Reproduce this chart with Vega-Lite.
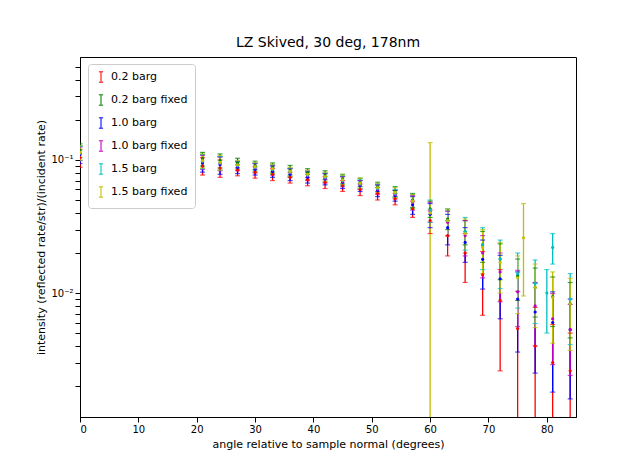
{
"$schema":"https://vega.github.io/schema/vega-lite/v6.json",
"autosize":"none","width":496,"height":360,
"padding":{"left":80,"top":57,"right":64,"bottom":51},
"config":{"font":"DejaVu Sans","view":{"stroke":"black","strokeWidth":1}},
"title":{"text":"LZ Skived, 30 deg, 178nm","fontSize":14,"fontWeight":"normal","offset":7},
"datasets":{"d":[
{"s":"0.2 barg","x":0,"y":0.104,"lo":0.088,"hi":0.12},{"s":"0.2 barg","x":3,"y":0.1,"lo":0.085,"hi":0.115},{"s":"0.2 barg","x":6,"y":0.098,"lo":0.083,"hi":0.113},{"s":"0.2 barg","x":9,"y":0.096,"lo":0.082,"hi":0.11},{"s":"0.2 barg","x":12,"y":0.095,"lo":0.081,"hi":0.109},{"s":"0.2 barg","x":15,"y":0.093,"lo":0.079,"hi":0.107},{"s":"0.2 barg","x":18,"y":0.091,"lo":0.077,"hi":0.105},{"s":"0.2 barg","x":21,"y":0.09,"lo":0.077,"hi":0.104},{"s":"0.2 barg","x":24,"y":0.087,"lo":0.074,"hi":0.1},{"s":"0.2 barg","x":27,"y":0.084,"lo":0.076,"hi":0.092},{"s":"0.2 barg","x":30,"y":0.081,"lo":0.073,"hi":0.089},{"s":"0.2 barg","x":33,"y":0.078,"lo":0.07,"hi":0.086},{"s":"0.2 barg","x":36,"y":0.074,"lo":0.067,"hi":0.081},{"s":"0.2 barg","x":39,"y":0.071,"lo":0.064,"hi":0.078},{"s":"0.2 barg","x":42,"y":0.068,"lo":0.061,"hi":0.075},{"s":"0.2 barg","x":45,"y":0.064,"lo":0.058,"hi":0.07},{"s":"0.2 barg","x":48,"y":0.06,"lo":0.054,"hi":0.066},{"s":"0.2 barg","x":51,"y":0.056,"lo":0.05,"hi":0.062},{"s":"0.2 barg","x":54,"y":0.051,"lo":0.046,"hi":0.056},{"s":"0.2 barg","x":57,"y":0.043,"lo":0.037,"hi":0.049},{"s":"0.2 barg","x":60,"y":0.035,"lo":0.028,"hi":0.042},{"s":"0.2 barg","x":63,"y":0.027,"lo":0.019,"hi":0.035},{"s":"0.2 barg","x":66,"y":0.02,"lo":0.012,"hi":0.028},{"s":"0.2 barg","x":69,"y":0.0137,"lo":0.0068,"hi":0.0205},{"s":"0.2 barg","x":72,"y":0.0088,"lo":0.0026,"hi":0.015},{"s":"0.2 barg","x":75,"y":0.0054,"lo":0.0005,"hi":0.0103},{"s":"0.2 barg","x":78,"y":0.004,"lo":0.0002,"hi":0.0078},{"s":"0.2 barg","x":81,"y":0.003,"lo":0.0002,"hi":0.0058},{"s":"0.2 barg","x":84,"y":0.0026,"lo":0.0002,"hi":0.005},
{"s":"0.2 barg fixed","x":0,"y":0.118,"lo":0.104,"hi":0.132},{"s":"0.2 barg fixed","x":3,"y":0.113,"lo":0.099,"hi":0.127},{"s":"0.2 barg fixed","x":6,"y":0.11,"lo":0.097,"hi":0.123},{"s":"0.2 barg fixed","x":9,"y":0.108,"lo":0.095,"hi":0.121},{"s":"0.2 barg fixed","x":12,"y":0.107,"lo":0.094,"hi":0.12},{"s":"0.2 barg fixed","x":15,"y":0.105,"lo":0.092,"hi":0.118},{"s":"0.2 barg fixed","x":18,"y":0.103,"lo":0.091,"hi":0.115},{"s":"0.2 barg fixed","x":21,"y":0.102,"lo":0.09,"hi":0.114},{"s":"0.2 barg fixed","x":24,"y":0.099,"lo":0.087,"hi":0.111},{"s":"0.2 barg fixed","x":27,"y":0.095,"lo":0.087,"hi":0.103},{"s":"0.2 barg fixed","x":30,"y":0.091,"lo":0.084,"hi":0.098},{"s":"0.2 barg fixed","x":33,"y":0.088,"lo":0.081,"hi":0.095},{"s":"0.2 barg fixed","x":36,"y":0.084,"lo":0.077,"hi":0.091},{"s":"0.2 barg fixed","x":39,"y":0.08,"lo":0.074,"hi":0.086},{"s":"0.2 barg fixed","x":42,"y":0.077,"lo":0.071,"hi":0.083},{"s":"0.2 barg fixed","x":45,"y":0.072,"lo":0.066,"hi":0.078},{"s":"0.2 barg fixed","x":48,"y":0.068,"lo":0.063,"hi":0.073},{"s":"0.2 barg fixed","x":51,"y":0.063,"lo":0.058,"hi":0.068},{"s":"0.2 barg fixed","x":54,"y":0.058,"lo":0.053,"hi":0.063},{"s":"0.2 barg fixed","x":57,"y":0.05,"lo":0.044,"hi":0.056},{"s":"0.2 barg fixed","x":60,"y":0.043,"lo":0.037,"hi":0.049},{"s":"0.2 barg fixed","x":63,"y":0.036,"lo":0.03,"hi":0.042},{"s":"0.2 barg fixed","x":66,"y":0.029,"lo":0.023,"hi":0.035},{"s":"0.2 barg fixed","x":69,"y":0.023,"lo":0.017,"hi":0.029},{"s":"0.2 barg fixed","x":72,"y":0.018,"lo":0.0126,"hi":0.0234},{"s":"0.2 barg fixed","x":75,"y":0.0135,"lo":0.0088,"hi":0.018},{"s":"0.2 barg fixed","x":78,"y":0.011,"lo":0.0066,"hi":0.0154},{"s":"0.2 barg fixed","x":81,"y":0.0094,"lo":0.0056,"hi":0.0132},{"s":"0.2 barg fixed","x":84,"y":0.0083,"lo":0.0046,"hi":0.012},
{"s":"1.0 barg","x":0,"y":0.11,"lo":0.094,"hi":0.127},{"s":"1.0 barg","x":3,"y":0.106,"lo":0.09,"hi":0.122},{"s":"1.0 barg","x":6,"y":0.103,"lo":0.088,"hi":0.118},{"s":"1.0 barg","x":9,"y":0.101,"lo":0.086,"hi":0.116},{"s":"1.0 barg","x":12,"y":0.1,"lo":0.085,"hi":0.115},{"s":"1.0 barg","x":15,"y":0.098,"lo":0.083,"hi":0.113},{"s":"1.0 barg","x":18,"y":0.096,"lo":0.082,"hi":0.11},{"s":"1.0 barg","x":21,"y":0.095,"lo":0.081,"hi":0.109},{"s":"1.0 barg","x":24,"y":0.092,"lo":0.078,"hi":0.106},{"s":"1.0 barg","x":27,"y":0.088,"lo":0.079,"hi":0.097},{"s":"1.0 barg","x":30,"y":0.085,"lo":0.077,"hi":0.094},{"s":"1.0 barg","x":33,"y":0.082,"lo":0.074,"hi":0.09},{"s":"1.0 barg","x":36,"y":0.078,"lo":0.07,"hi":0.086},{"s":"1.0 barg","x":39,"y":0.074,"lo":0.067,"hi":0.081},{"s":"1.0 barg","x":42,"y":0.072,"lo":0.065,"hi":0.079},{"s":"1.0 barg","x":45,"y":0.068,"lo":0.061,"hi":0.075},{"s":"1.0 barg","x":48,"y":0.064,"lo":0.058,"hi":0.07},{"s":"1.0 barg","x":51,"y":0.059,"lo":0.053,"hi":0.065},{"s":"1.0 barg","x":54,"y":0.054,"lo":0.049,"hi":0.059},{"s":"1.0 barg","x":57,"y":0.046,"lo":0.039,"hi":0.053},{"s":"1.0 barg","x":60,"y":0.039,"lo":0.031,"hi":0.047},{"s":"1.0 barg","x":63,"y":0.031,"lo":0.023,"hi":0.039},{"s":"1.0 barg","x":66,"y":0.024,"lo":0.017,"hi":0.031},{"s":"1.0 barg","x":69,"y":0.0179,"lo":0.0107,"hi":0.025},{"s":"1.0 barg","x":72,"y":0.0128,"lo":0.0064,"hi":0.0192},{"s":"1.0 barg","x":75,"y":0.009,"lo":0.0036,"hi":0.0144},{"s":"1.0 barg","x":78,"y":0.0072,"lo":0.0025,"hi":0.0119},{"s":"1.0 barg","x":81,"y":0.006,"lo":0.0018,"hi":0.0102},{"s":"1.0 barg","x":84,"y":0.0053,"lo":0.0016,"hi":0.009},
{"s":"1.0 barg fixed","x":0,"y":0.112,"lo":0.099,"hi":0.125},{"s":"1.0 barg fixed","x":3,"y":0.108,"lo":0.095,"hi":0.121},{"s":"1.0 barg fixed","x":6,"y":0.105,"lo":0.092,"hi":0.118},{"s":"1.0 barg fixed","x":7,"y":0.1,"lo":0.056,"hi":0.15},{"s":"1.0 barg fixed","x":9,"y":0.103,"lo":0.091,"hi":0.115},{"s":"1.0 barg fixed","x":12,"y":0.102,"lo":0.09,"hi":0.114},{"s":"1.0 barg fixed","x":15,"y":0.1,"lo":0.088,"hi":0.112},{"s":"1.0 barg fixed","x":18,"y":0.098,"lo":0.086,"hi":0.11},{"s":"1.0 barg fixed","x":21,"y":0.097,"lo":0.085,"hi":0.109},{"s":"1.0 barg fixed","x":24,"y":0.094,"lo":0.083,"hi":0.105},{"s":"1.0 barg fixed","x":27,"y":0.09,"lo":0.083,"hi":0.097},{"s":"1.0 barg fixed","x":30,"y":0.087,"lo":0.08,"hi":0.094},{"s":"1.0 barg fixed","x":33,"y":0.084,"lo":0.077,"hi":0.091},{"s":"1.0 barg fixed","x":36,"y":0.08,"lo":0.074,"hi":0.086},{"s":"1.0 barg fixed","x":39,"y":0.076,"lo":0.07,"hi":0.082},{"s":"1.0 barg fixed","x":42,"y":0.073,"lo":0.067,"hi":0.079},{"s":"1.0 barg fixed","x":45,"y":0.069,"lo":0.063,"hi":0.075},{"s":"1.0 barg fixed","x":48,"y":0.065,"lo":0.06,"hi":0.07},{"s":"1.0 barg fixed","x":51,"y":0.06,"lo":0.055,"hi":0.065},{"s":"1.0 barg fixed","x":54,"y":0.055,"lo":0.051,"hi":0.059},{"s":"1.0 barg fixed","x":57,"y":0.048,"lo":0.042,"hi":0.054},{"s":"1.0 barg fixed","x":60,"y":0.041,"lo":0.034,"hi":0.048},{"s":"1.0 barg fixed","x":63,"y":0.034,"lo":0.027,"hi":0.041},{"s":"1.0 barg fixed","x":66,"y":0.027,"lo":0.019,"hi":0.035},{"s":"1.0 barg fixed","x":69,"y":0.02,"lo":0.013,"hi":0.027},{"s":"1.0 barg fixed","x":72,"y":0.0144,"lo":0.0086,"hi":0.02},{"s":"1.0 barg fixed","x":75,"y":0.0102,"lo":0.0056,"hi":0.0148},{"s":"1.0 barg fixed","x":78,"y":0.008,"lo":0.004,"hi":0.012},{"s":"1.0 barg fixed","x":81,"y":0.0064,"lo":0.0029,"hi":0.0099},{"s":"1.0 barg fixed","x":84,"y":0.0053,"lo":0.0024,"hi":0.0082},
{"s":"1.5 barg","x":0,"y":0.113,"lo":0.099,"hi":0.127},{"s":"1.5 barg","x":3,"y":0.109,"lo":0.096,"hi":0.122},{"s":"1.5 barg","x":6,"y":0.106,"lo":0.093,"hi":0.119},{"s":"1.5 barg","x":9,"y":0.104,"lo":0.092,"hi":0.116},{"s":"1.5 barg","x":12,"y":0.103,"lo":0.091,"hi":0.115},{"s":"1.5 barg","x":15,"y":0.101,"lo":0.089,"hi":0.113},{"s":"1.5 barg","x":18,"y":0.099,"lo":0.087,"hi":0.111},{"s":"1.5 barg","x":21,"y":0.098,"lo":0.086,"hi":0.11},{"s":"1.5 barg","x":24,"y":0.095,"lo":0.084,"hi":0.106},{"s":"1.5 barg","x":27,"y":0.091,"lo":0.084,"hi":0.098},{"s":"1.5 barg","x":30,"y":0.088,"lo":0.081,"hi":0.095},{"s":"1.5 barg","x":33,"y":0.085,"lo":0.078,"hi":0.092},{"s":"1.5 barg","x":36,"y":0.081,"lo":0.075,"hi":0.087},{"s":"1.5 barg","x":39,"y":0.077,"lo":0.071,"hi":0.083},{"s":"1.5 barg","x":42,"y":0.074,"lo":0.068,"hi":0.08},{"s":"1.5 barg","x":45,"y":0.07,"lo":0.064,"hi":0.076},{"s":"1.5 barg","x":48,"y":0.066,"lo":0.061,"hi":0.071},{"s":"1.5 barg","x":51,"y":0.061,"lo":0.056,"hi":0.066},{"s":"1.5 barg","x":54,"y":0.056,"lo":0.052,"hi":0.06},{"s":"1.5 barg","x":57,"y":0.049,"lo":0.043,"hi":0.055},{"s":"1.5 barg","x":60,"y":0.042,"lo":0.034,"hi":0.05},{"s":"1.5 barg","x":63,"y":0.035,"lo":0.027,"hi":0.043},{"s":"1.5 barg","x":66,"y":0.029,"lo":0.021,"hi":0.037},{"s":"1.5 barg","x":69,"y":0.023,"lo":0.015,"hi":0.031},{"s":"1.5 barg","x":72,"y":0.018,"lo":0.0108,"hi":0.025},{"s":"1.5 barg","x":75,"y":0.014,"lo":0.0077,"hi":0.02},{"s":"1.5 barg","x":78,"y":0.0118,"lo":0.0059,"hi":0.0177},{"s":"1.5 barg","x":80,"y":0.01,"lo":0.005,"hi":0.015},{"s":"1.5 barg","x":81,"y":0.022,"lo":0.0165,"hi":0.028},{"s":"1.5 barg","x":84,"y":0.009,"lo":0.0041,"hi":0.014},
{"s":"1.5 barg fixed","x":0,"y":0.114,"lo":0.1,"hi":0.128},{"s":"1.5 barg fixed","x":3,"y":0.11,"lo":0.097,"hi":0.123},{"s":"1.5 barg fixed","x":6,"y":0.107,"lo":0.094,"hi":0.12},{"s":"1.5 barg fixed","x":9,"y":0.105,"lo":0.092,"hi":0.118},{"s":"1.5 barg fixed","x":12,"y":0.104,"lo":0.092,"hi":0.116},{"s":"1.5 barg fixed","x":15,"y":0.102,"lo":0.09,"hi":0.114},{"s":"1.5 barg fixed","x":18,"y":0.1,"lo":0.088,"hi":0.112},{"s":"1.5 barg fixed","x":21,"y":0.099,"lo":0.087,"hi":0.111},{"s":"1.5 barg fixed","x":24,"y":0.096,"lo":0.084,"hi":0.108},{"s":"1.5 barg fixed","x":27,"y":0.092,"lo":0.085,"hi":0.099},{"s":"1.5 barg fixed","x":30,"y":0.089,"lo":0.082,"hi":0.096},{"s":"1.5 barg fixed","x":33,"y":0.086,"lo":0.079,"hi":0.093},{"s":"1.5 barg fixed","x":36,"y":0.082,"lo":0.075,"hi":0.088},{"s":"1.5 barg fixed","x":39,"y":0.078,"lo":0.072,"hi":0.084},{"s":"1.5 barg fixed","x":42,"y":0.075,"lo":0.069,"hi":0.081},{"s":"1.5 barg fixed","x":45,"y":0.071,"lo":0.065,"hi":0.077},{"s":"1.5 barg fixed","x":48,"y":0.067,"lo":0.061,"hi":0.073},{"s":"1.5 barg fixed","x":51,"y":0.062,"lo":0.057,"hi":0.067},{"s":"1.5 barg fixed","x":54,"y":0.057,"lo":0.052,"hi":0.062},{"s":"1.5 barg fixed","x":57,"y":0.049,"lo":0.043,"hi":0.055},{"s":"1.5 barg fixed","x":60,"y":0.04,"lo":0.0002,"hi":0.135},{"s":"1.5 barg fixed","x":63,"y":0.035,"lo":0.027,"hi":0.043},{"s":"1.5 barg fixed","x":66,"y":0.028,"lo":0.02,"hi":0.036},{"s":"1.5 barg fixed","x":69,"y":0.022,"lo":0.014,"hi":0.03},{"s":"1.5 barg fixed","x":72,"y":0.017,"lo":0.01,"hi":0.024},{"s":"1.5 barg fixed","x":75,"y":0.013,"lo":0.007,"hi":0.019},{"s":"1.5 barg fixed","x":76,"y":0.026,"lo":0.0095,"hi":0.047},{"s":"1.5 barg fixed","x":78,"y":0.011,"lo":0.0055,"hi":0.0165},{"s":"1.5 barg fixed","x":81,"y":0.0093,"lo":0.0042,"hi":0.0144},{"s":"1.5 barg fixed","x":84,"y":0.0083,"lo":0.0037,"hi":0.0129}
]},
"data":{"name":"d"},
"encoding":{
"x":{"field":"x","type":"quantitative","scale":{"domain":[0,85],"nice":false,"zero":false},
"axis":{"values":[0,10,20,30,40,50,60,70,80],"grid":false,"title":"angle relative to sample normal (degrees)","titleFontWeight":"normal","titleFontSize":11,"labelFontSize":10,"domainColor":"black","tickColor":"black","labelColor":"black","titleColor":"black"}},
"color":{"field":"s","type":"nominal","scale":{"domain":["0.2 barg","0.2 barg fixed","1.0 barg","1.0 barg fixed","1.5 barg","1.5 barg fixed"],"range":["#ff0000","#008000","#0000ff","#bf00bf","#00bfbf","#bfbf00"]},
"legend":{"orient":"none","legendX":8,"legendY":7,"title":null,"labelFontSize":11,"labelColor":"black","symbolType":"M0,-1L0,1M-0.4,-1L0.4,-1M-0.4,1L0.4,1","symbolSize":110,"symbolStrokeWidth":1.5,"symbolFillColor":"transparent","rowPadding":5,"padding":7,"strokeColor":"#cccccc","fillColor":"white","cornerRadius":3}}
},
"layer":[
{"mark":{"type":"rule","clip":true,"strokeWidth":1.3},"encoding":{"y":{"field":"lo","type":"quantitative","scale":{"type":"log","domain":[0.00117,0.594],"nice":false},
"axis":{"values":[0.002,0.003,0.004,0.005,0.006,0.007,0.008,0.009,0.01,0.02,0.03,0.04,0.05,0.06,0.07,0.08,0.09,0.1,0.2,0.3,0.4,0.5],"labelExpr":"datum.value==0.1?'10⁻¹':(datum.value==0.01?'10⁻²':'')","grid":false,"title":"intensity (reflected rate/str)/(incident rate)","titleFontWeight":"normal","titleFontSize":11,"labelFontSize":10,"domainColor":"black","tickColor":"black","labelColor":"black","titleColor":"black"}},"y2":{"field":"hi"}}},
{"mark":{"type":"tick","clip":true,"orient":"horizontal","size":5,"thickness":1.2},"encoding":{"y":{"field":"lo","type":"quantitative"}}},
{"mark":{"type":"tick","clip":true,"orient":"horizontal","size":5,"thickness":1.2},"encoding":{"y":{"field":"hi","type":"quantitative"}}},
{"mark":{"type":"point","filled":true,"size":10,"opacity":1,"clip":true},"encoding":{"y":{"field":"y","type":"quantitative"}}}
]
}
